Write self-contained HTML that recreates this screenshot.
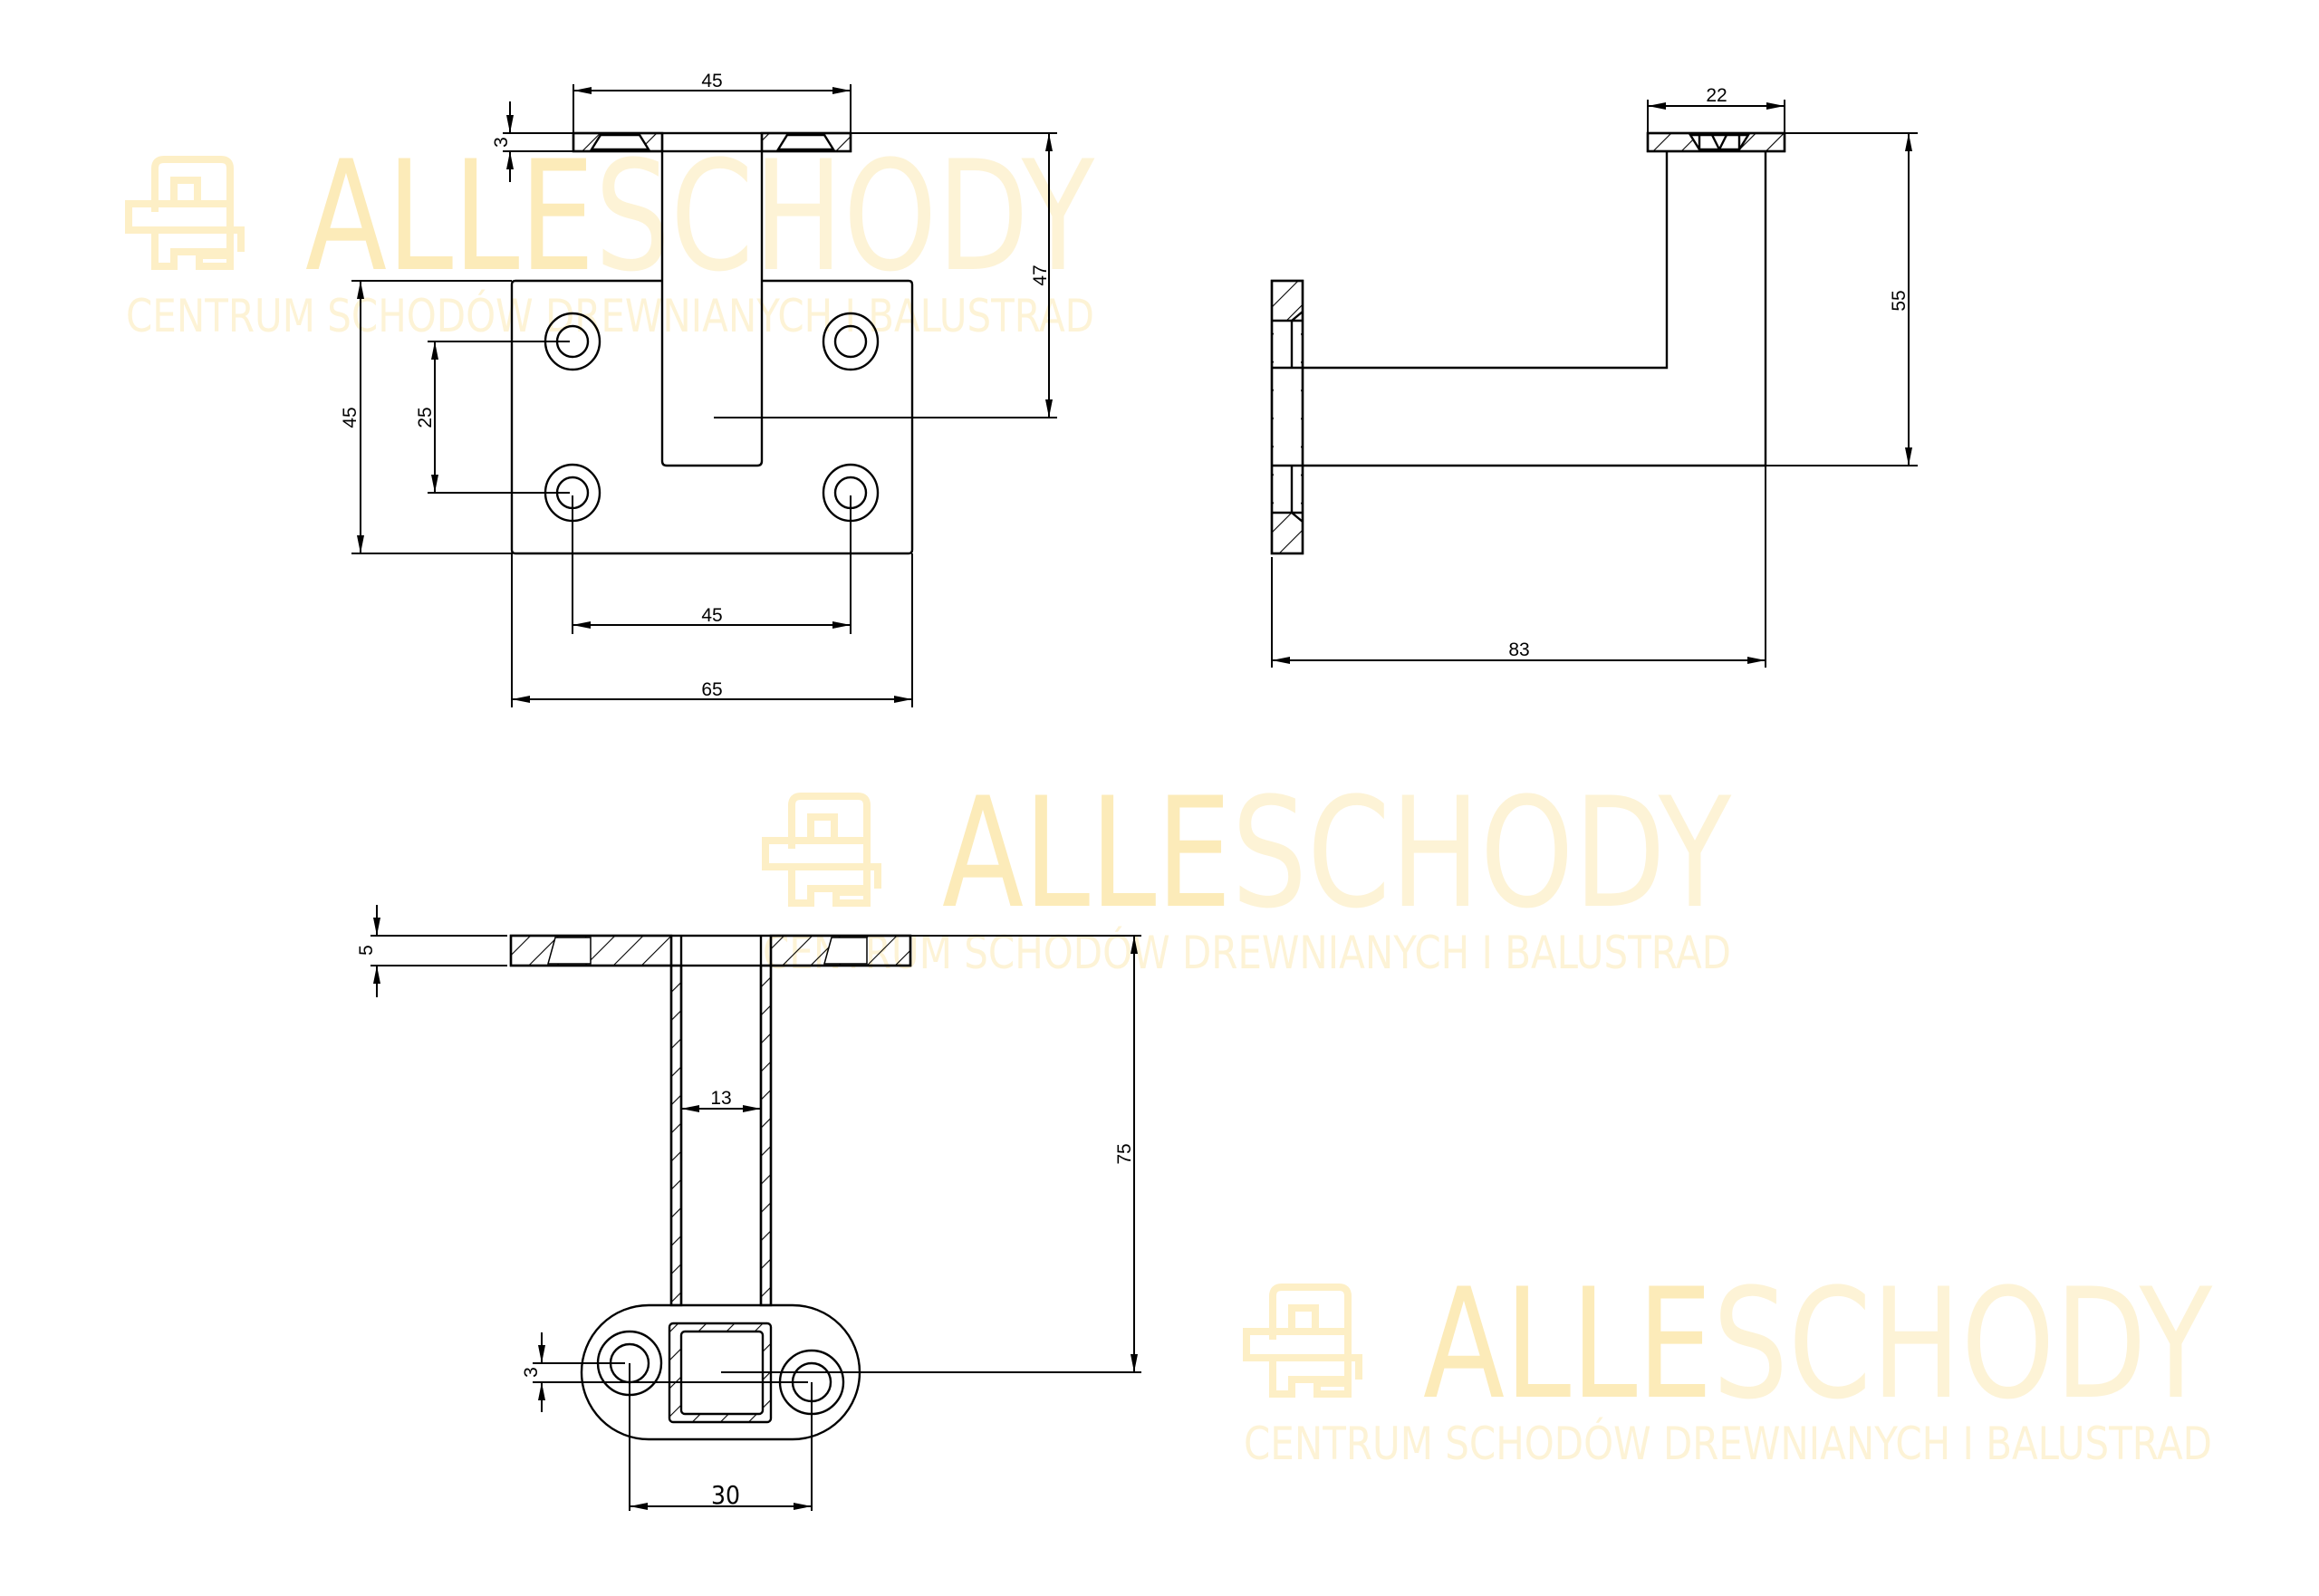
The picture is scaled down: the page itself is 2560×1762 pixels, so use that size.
<!DOCTYPE html>
<html><head><meta charset="utf-8"><style>html,body{margin:0;padding:0;background:#fff}svg{display:block}</style></head>
<body>
<svg width="2560" height="1762" viewBox="0 0 2560 1762" xmlns="http://www.w3.org/2000/svg">
<defs>
<pattern id="h" width="22" height="22" patternUnits="userSpaceOnUse" patternTransform="rotate(45)">
<line x1="0" y1="0" x2="0" y2="22" stroke="#000" stroke-width="2.2"/>
</pattern>
<marker id="a" viewBox="0 0 20 8" refX="20" refY="4" markerWidth="20" markerHeight="8" markerUnits="userSpaceOnUse" orient="auto-start-reverse">
<path d="M0,0 L20,4 L0,8 z" fill="#000"/></marker>
<g id="wm">
<g fill="none" stroke="#fdefc6" stroke-width="8">
<path d="M171,234 V186 Q171,176 181,176 H244 Q254,176 254,186 V254"/>
<rect x="192" y="199" width="26" height="26"/>
<rect x="142" y="225" width="112" height="29"/>
<path d="M171,254 V294 H192 V278 H254 V254 H266 V278"/>
<rect x="220" y="282" width="34" height="12"/>
</g>
<text x="337" y="297" font-weight="200" font-family="'DejaVu Sans Condensed','Liberation Sans Narrow','Liberation Sans',sans-serif" font-size="168" textLength="871" lengthAdjust="spacingAndGlyphs"><tspan fill="#fcebb9">ALLE</tspan><tspan fill="#fdf3d6">SCHODY</tspan></text>
<text x="139" y="366" fill="#fdf3d6" font-family="'DejaVu Sans Condensed','Liberation Sans',sans-serif" font-size="50" textLength="1069" lengthAdjust="spacingAndGlyphs">CENTRUM  SCHODÓW  DREWNIANYCH  I  BALUSTRAD</text>
</g>
</defs>
<rect width="2560" height="1762" fill="#fff"/>
<use href="#wm"/>
<use href="#wm" transform="translate(703,703)"/>
<use href="#wm" transform="translate(1234,1245)"/>

<g stroke="#000" stroke-width="2.4" fill="none" font-family="'Liberation Sans',sans-serif">
<!-- VIEW 1 -->
<rect x="633" y="147" width="98" height="20" fill="url(#h)"/>
<rect x="841" y="147" width="98" height="20" fill="url(#h)"/>
<path d="M663,149 H706 L716,165 H653 Z" fill="#fff"/>
<path d="M869,149 H910 L920,165 H859 Z" fill="#fff"/>
<rect x="633" y="147" width="306" height="20"/>
<path d="M731,310 H569 Q565,310 565,314 V607 Q565,611 569,611 H1003 Q1007,611 1007,607 V314 Q1007,310 1003,310 H841"/>
<path d="M731,147 V509 Q731,514 736,514 H836 Q841,514 841,509 V147"/>
<g>
<ellipse cx="632" cy="377" rx="30" ry="31"/><circle cx="632" cy="377" r="17"/>
<ellipse cx="939" cy="377" rx="30" ry="31"/><circle cx="939" cy="377" r="17"/>
<ellipse cx="632" cy="544" rx="30" ry="31"/><circle cx="632" cy="544" r="17"/>
<ellipse cx="939" cy="544" rx="30" ry="31"/><circle cx="939" cy="544" r="17"/>
</g>
<g stroke-width="2">
<path d="M633,147 V93 M939,147 V93"/>
<line x1="633" y1="100" x2="939" y2="100" marker-start="url(#a)" marker-end="url(#a)"/>
<path d="M555,147 H633 M555,167 H633 M939,147 H1167"/>
<line x1="563" y1="112" x2="563" y2="147" marker-end="url(#a)"/>
<line x1="563" y1="201" x2="563" y2="167" marker-end="url(#a)"/>
<line x1="1158" y1="147" x2="1158" y2="461" marker-start="url(#a)" marker-end="url(#a)"/>
<path d="M788,461 H1167"/>
<path d="M388,310 H565 M388,611 H565"/>
<line x1="398" y1="310" x2="398" y2="611" marker-start="url(#a)" marker-end="url(#a)"/>
<path d="M472,377 H629 M472,544 H629"/>
<line x1="480" y1="377" x2="480" y2="544" marker-start="url(#a)" marker-end="url(#a)"/>
<path d="M632,547 V700 M939,547 V700"/>
<line x1="632" y1="690" x2="939" y2="690" marker-start="url(#a)" marker-end="url(#a)"/>
<path d="M565,611 V781 M1007,611 V781"/>
<line x1="565" y1="772" x2="1007" y2="772" marker-start="url(#a)" marker-end="url(#a)"/>
</g>
<g stroke="none" fill="#000" font-size="21">
<text x="786" y="96" text-anchor="middle">45</text>
<text x="786" y="686" text-anchor="middle">45</text>
<text x="786" y="768" text-anchor="middle">65</text>
<text transform="translate(560,157) rotate(-90)" text-anchor="middle">3</text>
<text transform="translate(1155,304) rotate(-90)" text-anchor="middle">47</text>
<text transform="translate(393,461) rotate(-90)" text-anchor="middle">45</text>
<text transform="translate(476,461) rotate(-90)" text-anchor="middle">25</text>
</g>

<!-- VIEW 2 -->
<rect x="1819" y="147" width="151" height="20" fill="url(#h)"/>
<path d="M1866,149 H1930 L1920,165 H1876 Z" fill="#fff"/>
<path d="M1876,149 V165 M1920,149 V165 M1890,149 L1898,165 M1906,149 L1898,165"/>
<rect x="1819" y="147" width="151" height="20"/>
<path d="M1840,167 V406 H1438 M1949,167 V514 H1438"/>
<rect x="1404" y="310" width="34" height="301" fill="url(#h)"/>
<rect x="1406" y="354" width="30" height="212" fill="#fff" stroke="none"/>
<path d="M1404,354 H1438 M1404,406 H1438 M1404,514 H1438 M1404,566 H1438 M1426,354 L1438,344 M1426,566 L1438,576 M1426,354 V406 M1426,514 V566"/>
<rect x="1404" y="310" width="34" height="301"/>
<g stroke-width="2">
<path d="M1819,147 V110 M1970,147 V110"/>
<line x1="1819" y1="117" x2="1970" y2="117" marker-start="url(#a)" marker-end="url(#a)"/>
<path d="M1970,147 H2117 M1949,514 H2117"/>
<line x1="2107" y1="147" x2="2107" y2="514" marker-start="url(#a)" marker-end="url(#a)"/>
<path d="M1404,615 V737 M1949,514 V737"/>
<line x1="1404" y1="729" x2="1949" y2="729" marker-start="url(#a)" marker-end="url(#a)"/>
</g>
<g stroke="none" fill="#000" font-size="21">
<text x="1895" y="112" text-anchor="middle">22</text>
<text x="1677" y="724" text-anchor="middle">83</text>
<text transform="translate(2103,332) rotate(-90)" text-anchor="middle">55</text>
</g>

<!-- VIEW 3 -->
<rect x="564" y="1033" width="177" height="33" fill="url(#h)"/>
<rect x="851" y="1033" width="154" height="33" fill="url(#h)"/>
<path d="M613,1035 H652 V1064 H605 Z M918,1035 H957 V1064 H910 Z" fill="#fff" stroke-width="1.5"/>
<rect x="564" y="1033" width="441" height="33"/>
<rect x="741" y="1066" width="11" height="375" fill="url(#h)"/>
<rect x="840" y="1066" width="11" height="375" fill="url(#h)"/>
<path d="M741,1033 V1441 M752,1033 V1441 M840,1033 V1441 M851,1033 V1441"/>
<rect x="642" y="1441" width="307" height="148" rx="74"/>
<rect x="739" y="1461" width="112" height="109" rx="4" fill="url(#h)"/>
<rect x="752" y="1470" width="90" height="91" rx="4" fill="#fff"/>
<circle cx="695" cy="1505" r="35"/><circle cx="695" cy="1505" r="21"/>
<circle cx="896" cy="1526" r="35"/><circle cx="896" cy="1526" r="21"/>
<g stroke-width="2">
<path d="M409,1033 H560 M409,1066 H560 M1005,1033 H1260"/>
<line x1="416" y1="999" x2="416" y2="1033" marker-end="url(#a)"/>
<line x1="416" y1="1101" x2="416" y2="1066" marker-end="url(#a)"/>
<line x1="752" y1="1224" x2="840" y2="1224" marker-start="url(#a)" marker-end="url(#a)"/>
<line x1="1252" y1="1033" x2="1252" y2="1515" marker-start="url(#a)" marker-end="url(#a)"/>
<path d="M796,1515 H1260"/>
<path d="M588,1505 H690 M588,1526 H892"/>
<line x1="598" y1="1471" x2="598" y2="1505" marker-end="url(#a)"/>
<line x1="598" y1="1559" x2="598" y2="1526" marker-end="url(#a)"/>
<path d="M695,1505 V1668 M896,1526 V1668"/>
<line x1="695" y1="1663" x2="896" y2="1663" marker-start="url(#a)" marker-end="url(#a)"/>
</g>
<g stroke="none" fill="#000" font-size="21">
<text x="796" y="1219" text-anchor="middle">13</text>
<text x="801" y="1660" text-anchor="middle" font-size="28" font-family="'DejaVu Sans Condensed',sans-serif">30</text>
<text transform="translate(411,1049) rotate(-90)" text-anchor="middle">5</text>
<text transform="translate(1248,1274) rotate(-90)" text-anchor="middle">75</text>
<text transform="translate(593,1515) rotate(-90)" text-anchor="middle">3</text>
</g>
</g>
</svg>
</body></html>
